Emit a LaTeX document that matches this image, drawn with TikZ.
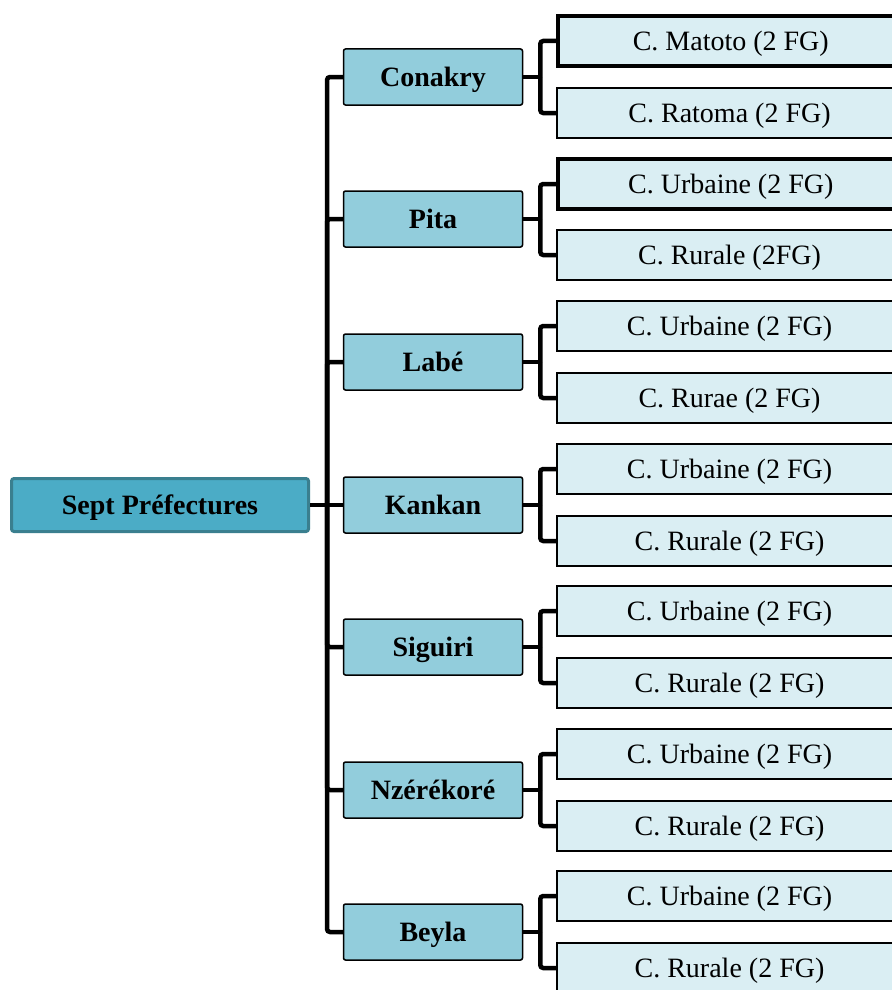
\documentclass[tikz,border=0pt]{standalone}
\usepackage{fontspec}
\setmainfont{Liberation Serif}
\usetikzlibrary{positioning}
\definecolor{rootfill}{HTML}{4BACC6}
\definecolor{rootline}{HTML}{3A7F8F}
\definecolor{prefill}{HTML}{92CDDC}
\definecolor{comfill}{HTML}{DAEEF3}

\begin{document}
\begin{tikzpicture}[
      x=1pt, y=-1pt,
      node distance=17pt and 33pt,
      racine/.style={draw=rootline, line width=3pt, fill=rootfill, rectangle,
                     rounded corners=2.5pt, minimum width=297pt, minimum height=53pt,
                     text height=19pt, text depth=0pt,
                     font=\fontsize{28}{32}\selectfont\bfseries},
      pref/.style={draw, line width=1.5pt, fill=prefill, rectangle,
                   rounded corners=2pt, minimum width=179pt, minimum height=56pt,
                   text height=19pt, text depth=0pt,
                   font=\fontsize{28}{32}\selectfont\bfseries},
      comm/.style={draw, line width=1.5pt, fill=comfill, rectangle,
                   minimum width=345pt, minimum height=50pt, anchor=west,
                   text height=19pt, text depth=0pt,
                   font=\fontsize{28}{32}\selectfont},
      epais/.style={line width=4pt},
      lien/.style={line width=4.5pt, rounded corners=3pt},
    ]
    \useasboundingbox (0,0) rectangle (891,990);

    % ---- racine ----
    \node[racine] (root) at (160,505) {Sept Préfectures};
    \coordinate[right=17pt of root] (tronc);

    % ---- prefectures ----
    \node[pref] (conakry) at (433,77) {Conakry};
    \node[pref] (pita) at (433,219) {Pita};
    \node[pref] (labe) at (433,362) {Labé};
    \node[pref] (kankan) at (433,505) {Kankan};
    \node[pref] (siguiri) at (433,647) {Siguiri};
    \node[pref] (nzere) at (433,790) {Nzérékoré};
    \node[pref] (beyla) at (433,932) {Beyla};

    % ---- communes ----
    \node[comm, epais, right=33pt of conakry, yshift=36pt] (matoto) {C. Matoto (2 FG)};
    \node[comm, right=33pt of conakry, yshift=-36pt] (ratoma) {C. Ratoma (2 FG)};
    \node[comm, epais, right=33pt of pita, yshift=35pt] (pitaU) {C. Urbaine (2 FG)};
    \node[comm, right=33pt of pita, yshift=-36pt] (pitaR) {C. Rurale (2FG)};
    \node[comm, right=33pt of labe, yshift=36pt] (labeU) {C. Urbaine (2 FG)};
    \node[comm, right=33pt of labe, yshift=-36pt] (labeR) {C. Rurae (2 FG)};
    \node[comm, right=33pt of kankan, yshift=36pt] (kankanU) {C. Urbaine (2 FG)};
    \node[comm, right=33pt of kankan, yshift=-36pt] (kankanR) {C. Rurale (2 FG)};
    \node[comm, right=33pt of siguiri, yshift=36pt] (siguiriU) {C. Urbaine (2 FG)};
    \node[comm, right=33pt of siguiri, yshift=-36pt] (siguiriR) {C. Rurale (2 FG)};
    \node[comm, right=33pt of nzere, yshift=36pt] (nzereU) {C. Urbaine (2 FG)};
    \node[comm, right=33pt of nzere, yshift=-36pt] (nzereR) {C. Rurale (2 FG)};
    \node[comm, right=33pt of beyla, yshift=36pt] (beylaU) {C. Urbaine (2 FG)};
    \node[comm, right=33pt of beyla, yshift=-36pt] (beylaR) {C. Rurale (2 FG)};

    % ---- tronc ----
    \draw[lien] (root) -- (tronc);
    \draw[lien] (tronc) |- (conakry);
    \draw[lien] (tronc) |- (pita);
    \draw[lien] (tronc) |- (labe);
    \draw[lien] (tronc) -- (kankan);
    \draw[lien] (tronc) |- (siguiri);
    \draw[lien] (tronc) |- (nzere);
    \draw[lien] (tronc) |- (beyla);

    % ---- branches ----
    \coordinate[right=17pt of conakry] (bConakry);
    \coordinate[right=17pt of pita] (bPita);
    \coordinate[right=17pt of labe] (bLabe);
    \coordinate[right=17pt of kankan] (bKankan);
    \coordinate[right=17pt of siguiri] (bSiguiri);
    \coordinate[right=17pt of nzere] (bNzere);
    \coordinate[right=17pt of beyla] (bBeyla);

    \draw[lien] (conakry) -- (bConakry);
    \draw[lien] (bConakry) |- (matoto);
    \draw[lien] (bConakry) |- (ratoma);
    \draw[lien] (pita) -- (bPita);
    \draw[lien] (bPita) |- (pitaU);
    \draw[lien] (bPita) |- (pitaR);
    \draw[lien] (labe) -- (bLabe);
    \draw[lien] (bLabe) |- (labeU);
    \draw[lien] (bLabe) |- (labeR);
    \draw[lien] (kankan) -- (bKankan);
    \draw[lien] (bKankan) |- (kankanU);
    \draw[lien] (bKankan) |- (kankanR);
    \draw[lien] (siguiri) -- (bSiguiri);
    \draw[lien] (bSiguiri) |- (siguiriU);
    \draw[lien] (bSiguiri) |- (siguiriR);
    \draw[lien] (nzere) -- (bNzere);
    \draw[lien] (bNzere) |- (nzereU);
    \draw[lien] (bNzere) |- (nzereR);
    \draw[lien] (beyla) -- (bBeyla);
    \draw[lien] (bBeyla) |- (beylaU);
    \draw[lien] (bBeyla) |- (beylaR);
  \end{tikzpicture}
\end{document}
